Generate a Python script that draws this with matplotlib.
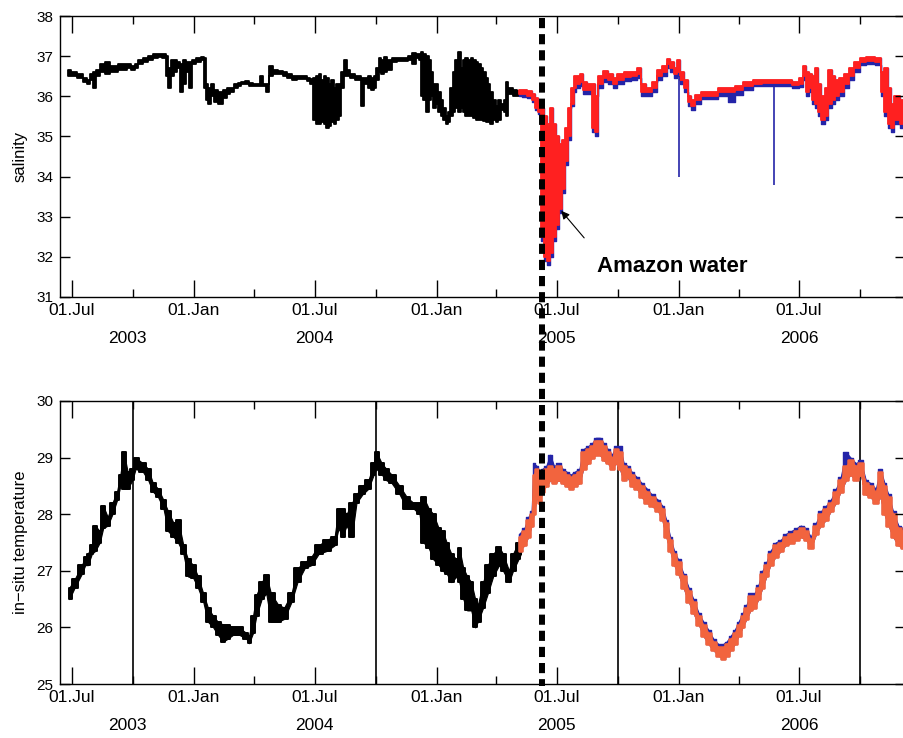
import numpy as np
import matplotlib
matplotlib.use('Agg')
import matplotlib.pyplot as plt
import matplotlib.dates as mdates
from matplotlib.lines import Line2D
from matplotlib.transforms import blended_transform_factory

plt.rcParams['font.family'] = ['Liberation Sans', 'DejaVu Sans']

# ---- salinity, first mooring (black), band low / high ----
sal_old_dates = ['2003-06-25', '2003-07-05', '2003-07-13', '2003-07-21', '2003-07-25', '2003-07-31',
                 '2003-08-05', '2003-08-09', '2003-08-17', '2003-08-24', '2003-08-30', '2003-09-04',
                 '2003-09-12', '2003-09-19', '2003-09-26', '2003-10-01', '2003-10-06', '2003-10-12',
                 '2003-10-20', '2003-10-27', '2003-11-04', '2003-11-11', '2003-11-18', '2003-11-21',
                 '2003-11-25', '2003-11-29', '2003-12-04', '2003-12-08', '2003-12-13', '2003-12-17',
                 '2003-12-23', '2003-12-27', '2004-01-01', '2004-01-08', '2004-01-14', '2004-01-17',
                 '2004-01-21', '2004-01-24', '2004-01-28', '2004-02-03', '2004-02-09', '2004-02-17',
                 '2004-02-22', '2004-02-27', '2004-03-04', '2004-03-10', '2004-03-15', '2004-03-21',
                 '2004-03-27', '2004-04-02', '2004-04-08', '2004-04-12', '2004-04-16', '2004-04-20',
                 '2004-04-25', '2004-05-02', '2004-05-10', '2004-05-17', '2004-05-24', '2004-06-01',
                 '2004-06-08', '2004-06-16', '2004-06-22', '2004-06-27', '2004-07-01', '2004-07-05',
                 '2004-07-09', '2004-07-13', '2004-07-16', '2004-07-20', '2004-07-24', '2004-07-28',
                 '2004-07-31', '2004-08-04', '2004-08-08', '2004-08-12', '2004-08-16', '2004-08-20',
                 '2004-08-27', '2004-09-03', '2004-09-07', '2004-09-12', '2004-09-16', '2004-09-22',
                 '2004-09-26', '2004-09-30', '2004-10-04', '2004-10-07', '2004-10-11', '2004-10-15',
                 '2004-10-22', '2004-10-30', '2004-11-06', '2004-11-14', '2004-11-22', '2004-11-26',
                 '2004-12-04', '2004-12-07', '2004-12-10', '2004-12-14', '2004-12-19', '2004-12-22',
                 '2004-12-25', '2004-12-29', '2005-01-01', '2005-01-05', '2005-01-09', '2005-01-12',
                 '2005-01-17', '2005-01-20', '2005-01-23', '2005-01-27', '2005-01-31', '2005-02-04',
                 '2005-02-08', '2005-02-11', '2005-02-15', '2005-02-19', '2005-02-23', '2005-02-27',
                 '2005-03-03', '2005-03-06', '2005-03-10', '2005-03-14', '2005-03-18', '2005-03-21',
                 '2005-03-25', '2005-03-29', '2005-04-02', '2005-04-05', '2005-04-10', '2005-04-14',
                 '2005-04-17', '2005-04-20', '2005-04-24', '2005-04-28', '2005-05-05']
sal_old_lo = [36.50, 36.50, 36.45, 36.35, 36.30, 36.40, 36.20, 36.50, 36.60, 36.55, 36.60, 36.60,
              36.65, 36.65, 36.70, 36.65, 36.70, 36.80, 36.85, 36.90, 36.95, 36.98, 36.95, 36.50,
              36.20, 36.50, 36.60, 36.70, 36.10, 36.30, 36.60, 36.20, 36.80, 36.85, 36.90, 36.20,
              35.90, 35.80, 36.00, 35.85, 35.80, 35.95, 36.05, 36.10, 36.20, 36.25, 36.30, 36.30,
              36.25, 36.25, 36.25, 36.25, 36.25, 36.10, 36.50, 36.55, 36.55, 36.50, 36.45, 36.40,
              36.42, 36.42, 36.38, 36.30, 35.40, 35.30, 35.30, 35.35, 35.30, 35.20, 35.25, 35.35,
              35.30, 35.40, 35.50, 36.20, 36.50, 36.50, 36.45, 36.40, 36.40, 35.75, 36.30, 36.20,
              36.15, 36.20, 36.40, 36.60, 36.55, 36.60, 36.65, 36.85, 36.88, 36.88, 36.90, 36.80,
              36.95, 36.90, 36.00, 35.90, 35.60, 35.90, 36.00, 35.70, 35.80, 35.60, 35.50, 35.40,
              35.30, 35.35, 35.50, 35.60, 35.70, 35.60, 35.70, 35.60, 35.50, 35.50, 35.50, 35.45,
              35.40, 35.40, 35.40, 35.38, 35.35, 35.35, 35.30, 35.40, 35.35, 35.40, 35.65, 35.60,
              35.50, 36.05, 36.05, 36.00, 36.00]
sal_old_hi = [36.65, 36.60, 36.55, 36.45, 36.40, 36.55, 36.60, 36.65, 36.80, 36.85, 36.75, 36.75,
              36.80, 36.80, 36.80, 36.75, 36.80, 36.90, 36.95, 37.00, 37.05, 37.05, 37.05, 37.00,
              36.70, 36.90, 36.90, 36.85, 36.80, 36.90, 36.85, 36.85, 36.90, 36.95, 36.97, 36.95,
              36.30, 36.20, 36.30, 36.15, 36.10, 36.15, 36.20, 36.20, 36.30, 36.32, 36.35, 36.38,
              36.32, 36.30, 36.30, 36.50, 36.30, 36.30, 36.75, 36.65, 36.62, 36.60, 36.55, 36.50,
              36.50, 36.50, 36.45, 36.42, 36.45, 36.50, 36.55, 36.40, 36.50, 36.45, 36.30, 36.40,
              36.20, 36.30, 36.30, 36.60, 36.90, 36.65, 36.55, 36.50, 36.50, 36.45, 36.45, 36.50,
              36.45, 36.50, 36.70, 36.95, 36.90, 36.98, 36.90, 36.95, 36.95, 36.95, 37.00, 37.08,
              37.05, 37.05, 37.10, 37.05, 37.00, 36.90, 36.60, 36.30, 36.30, 36.10, 35.90, 35.70,
              35.50, 35.60, 36.20, 36.60, 36.90, 37.10, 36.70, 36.90, 36.95, 36.90, 36.95, 36.90,
              36.85, 36.80, 36.70, 36.60, 36.45, 36.30, 36.10, 35.90, 35.75, 35.90, 35.80, 35.90,
              36.35, 36.20, 36.20, 36.15, 36.12]

# ---- salinity, second mooring (red sensor band, blue sensor below it) ----
sal_new_dates = ['2005-05-05', '2005-05-13', '2005-05-20', '2005-05-28', '2005-05-31', '2005-06-06',
                 '2005-06-09', '2005-06-14', '2005-06-18', '2005-06-23', '2005-06-27', '2005-07-03',
                 '2005-07-07', '2005-07-12', '2005-07-16', '2005-07-21', '2005-07-25', '2005-07-28',
                 '2005-08-02', '2005-08-08', '2005-08-12', '2005-08-20', '2005-08-26', '2005-08-29',
                 '2005-09-04', '2005-09-12', '2005-09-19', '2005-09-27', '2005-10-04', '2005-10-16',
                 '2005-10-27', '2005-11-03', '2005-11-08', '2005-11-18', '2005-11-26', '2005-12-03',
                 '2005-12-11', '2005-12-16', '2005-12-22', '2005-12-26', '2006-01-01', '2006-01-06',
                 '2006-01-12', '2006-01-18', '2006-01-22', '2006-01-30', '2006-02-09', '2006-02-21',
                 '2006-03-08', '2006-03-24', '2006-03-30', '2006-04-18', '2006-04-29', '2006-05-14',
                 '2006-05-29', '2006-06-13', '2006-06-28', '2006-07-05', '2006-07-10', '2006-07-14',
                 '2006-07-18', '2006-07-23', '2006-07-28', '2006-08-02', '2006-08-06', '2006-08-12',
                 '2006-08-17', '2006-08-22', '2006-08-27', '2006-09-04', '2006-09-11', '2006-09-19',
                 '2006-09-26', '2006-10-05', '2006-10-16', '2006-10-31', '2006-11-04', '2006-11-10',
                 '2006-11-15', '2006-11-19', '2006-11-25', '2006-12-05']
sal_red_lo = [36.05, 36.05, 36.00, 35.90, 35.70, 35.60, 32.50, 32.00, 31.90, 32.10, 32.50, 32.80,
              33.20, 33.70, 34.40, 35.00, 35.80, 36.20, 36.30, 36.35, 36.15, 36.15, 35.20, 35.10,
              36.30, 36.45, 36.40, 36.30, 36.40, 36.48, 36.50, 36.55, 36.10, 36.10, 36.20, 36.50,
              36.60, 36.80, 36.70, 36.55, 36.60, 36.40, 36.20, 35.85, 35.75, 35.90, 36.00, 36.00,
              36.10, 36.10, 36.15, 36.25, 36.30, 36.32, 36.32, 36.32, 36.28, 36.30, 36.50, 36.10,
              36.20, 35.90, 35.80, 35.60, 35.40, 35.50, 35.80, 35.90, 36.00, 36.10, 36.30, 36.50,
              36.70, 36.85, 36.88, 36.85, 36.10, 35.60, 35.30, 35.20, 35.40, 35.30]
sal_red_hi = [36.15, 36.15, 36.12, 36.05, 35.95, 35.80, 35.70, 35.50, 35.30, 35.70, 35.30, 35.00,
              34.80, 34.90, 35.20, 35.70, 36.20, 36.50, 36.50, 36.55, 36.35, 36.30, 36.30, 36.00,
              36.50, 36.62, 36.55, 36.45, 36.55, 36.60, 36.60, 36.70, 36.30, 36.20, 36.35, 36.65,
              36.75, 36.92, 36.85, 36.70, 36.90, 36.60, 36.40, 36.00, 35.90, 36.02, 36.10, 36.10,
              36.20, 36.20, 36.25, 36.35, 36.40, 36.40, 36.40, 36.40, 36.36, 36.45, 36.75, 36.60,
              36.55, 36.50, 36.70, 36.30, 36.00, 36.20, 36.65, 36.50, 36.40, 36.45, 36.55, 36.70,
              36.85, 36.95, 36.97, 36.95, 36.60, 36.70, 36.20, 35.80, 36.00, 35.90]
sal_blue = [36.00, 35.98, 35.95, 35.85, 35.65, 35.55, 32.40, 31.90, 31.80, 32.00, 32.40, 32.70,
            33.10, 33.60, 34.30, 34.90, 35.75, 36.10, 36.20, 36.25, 36.05, 36.05, 35.10, 35.00,
            36.20, 36.35, 36.30, 36.20, 36.30, 36.38, 36.40, 36.45, 36.00, 36.00, 36.10, 36.40,
            36.50, 36.70, 36.60, 36.45, 36.50, 36.30, 36.10, 35.75, 35.65, 35.80, 35.92, 35.92,
            36.00, 35.85, 36.02, 36.15, 36.25, 36.25, 36.25, 36.25, 36.20, 36.22, 36.40, 36.00,
            36.10, 35.80, 35.70, 35.50, 35.30, 35.40, 35.70, 35.80, 35.90, 36.00, 36.20, 36.40,
            36.60, 36.78, 36.80, 36.78, 36.00, 35.50, 35.20, 35.10, 35.30, 35.20]
sal_spike_dates = ['2006-01-01', '2006-05-24']
sal_spike_top = [36.50, 36.25]
sal_spike_bottom = [34.00, 33.80]

# ---- temperature, first mooring (black) ----
tmp_old_dates = ['2003-06-27', '2003-07-05', '2003-07-16', '2003-07-21', '2003-07-25', '2003-07-31',
                 '2003-08-05', '2003-08-12', '2003-08-17', '2003-08-24', '2003-08-31', '2003-09-07',
                 '2003-09-12', '2003-09-17', '2003-09-23', '2003-09-30', '2003-10-05', '2003-10-16',
                 '2003-10-24', '2003-10-31', '2003-11-08', '2003-11-16', '2003-11-23', '2003-12-01',
                 '2003-12-08', '2003-12-16', '2003-12-23', '2003-12-31', '2004-01-07', '2004-01-15',
                 '2004-01-22', '2004-01-30', '2004-02-06', '2004-02-14', '2004-02-21', '2004-02-29',
                 '2004-03-09', '2004-03-20', '2004-03-24', '2004-03-30', '2004-04-04', '2004-04-12',
                 '2004-04-19', '2004-04-26', '2004-05-07', '2004-05-16', '2004-05-27', '2004-06-05',
                 '2004-06-16', '2004-06-26', '2004-07-07', '2004-07-19', '2004-07-31', '2004-08-06',
                 '2004-08-12', '2004-08-18', '2004-08-26', '2004-09-02', '2004-09-11', '2004-09-20',
                 '2004-09-28', '2004-10-02', '2004-10-10', '2004-10-17', '2004-10-25', '2004-11-06',
                 '2004-11-17', '2004-11-27', '2004-12-06', '2004-12-12', '2004-12-20', '2004-12-27',
                 '2005-01-04', '2005-01-10', '2005-01-16', '2005-01-23', '2005-01-31', '2005-02-04',
                 '2005-02-10', '2005-02-16', '2005-02-22', '2005-02-28', '2005-03-04', '2005-03-12',
                 '2005-03-19', '2005-03-27', '2005-04-05', '2005-04-11', '2005-04-20', '2005-04-26',
                 '2005-05-04', '2005-05-08']
tmp_old_lo = [26.50, 26.70, 26.95, 27.10, 27.10, 27.30, 27.35, 27.50, 27.75, 27.80, 28.00, 28.25,
              28.50, 28.45, 28.45, 28.60, 28.80, 28.75, 28.60, 28.40, 28.30, 28.10, 27.70, 27.60,
              27.50, 27.30, 26.90, 26.87, 26.70, 26.45, 26.10, 26.00, 25.87, 25.75, 25.80, 25.87,
              25.87, 25.80, 25.72, 25.90, 26.20, 26.50, 26.60, 26.10, 26.10, 26.15, 26.45, 26.80,
              27.05, 27.10, 27.30, 27.35, 27.45, 27.75, 27.60, 27.80, 27.60, 28.20, 28.35, 28.45,
              28.70, 28.80, 28.70, 28.60, 28.55, 28.35, 28.10, 28.10, 28.00, 27.50, 27.40, 27.20,
              27.10, 27.00, 26.95, 26.80, 26.90, 26.80, 26.50, 26.30, 26.30, 26.00, 26.10, 26.35,
              26.60, 26.90, 27.10, 27.00, 26.80, 27.00, 27.20, 27.30]
tmp_old_hi = [26.70, 26.85, 27.10, 27.25, 27.30, 27.45, 27.80, 27.70, 28.15, 27.95, 28.20, 28.40,
              28.70, 29.10, 28.75, 28.80, 29.00, 28.90, 28.80, 28.55, 28.45, 28.25, 28.05, 27.85,
              27.90, 27.45, 27.20, 27.10, 26.90, 26.60, 26.35, 26.20, 26.10, 26.05, 26.05, 26.00,
              26.00, 25.90, 25.85, 26.20, 26.57, 26.80, 26.93, 26.60, 26.40, 26.35, 26.60, 27.05,
              27.15, 27.25, 27.45, 27.55, 27.60, 28.10, 28.10, 28.00, 28.20, 28.35, 28.50, 28.60,
              28.90, 29.10, 28.90, 28.80, 28.70, 28.50, 28.30, 28.20, 28.20, 28.30, 28.10, 28.00,
              27.75, 27.70, 27.50, 27.30, 27.20, 27.40, 27.05, 26.90, 26.80, 26.50, 26.40, 26.80,
              27.10, 27.30, 27.42, 27.30, 27.00, 27.30, 27.50, 27.60]

# ---- temperature, second mooring (orange band, blue just above it) ----
tmp_new_dates = ['2005-05-05', '2005-05-13', '2005-05-19', '2005-05-24', '2005-05-27', '2005-06-01',
                 '2005-06-05', '2005-06-09', '2005-06-15', '2005-06-21', '2005-06-27', '2005-07-04',
                 '2005-07-10', '2005-07-16', '2005-07-22', '2005-07-28', '2005-08-04', '2005-08-10',
                 '2005-08-17', '2005-08-23', '2005-08-29', '2005-09-04', '2005-09-10', '2005-09-16',
                 '2005-09-22', '2005-09-28', '2005-10-04', '2005-10-10', '2005-10-16', '2005-10-22',
                 '2005-10-30', '2005-11-06', '2005-11-14', '2005-11-21', '2005-12-01', '2005-12-07',
                 '2005-12-13', '2005-12-19', '2005-12-25', '2005-12-31', '2006-01-08', '2006-01-16',
                 '2006-01-23', '2006-01-31', '2006-02-07', '2006-02-15', '2006-02-22', '2006-03-02',
                 '2006-03-08', '2006-03-14', '2006-03-20', '2006-03-26', '2006-04-01', '2006-04-07',
                 '2006-04-13', '2006-04-19', '2006-04-25', '2006-05-01', '2006-05-07', '2006-05-13',
                 '2006-05-19', '2006-05-27', '2006-06-04', '2006-06-11', '2006-06-19', '2006-06-27',
                 '2006-07-04', '2006-07-12', '2006-07-19', '2006-07-27', '2006-08-03', '2006-08-11',
                 '2006-08-18', '2006-08-26', '2006-09-02', '2006-09-10', '2006-09-17', '2006-09-25',
                 '2006-10-02', '2006-10-10', '2006-10-17', '2006-10-25', '2006-11-01', '2006-11-07',
                 '2006-11-13', '2006-11-20', '2006-11-28', '2006-12-05']
tmp_red_lo = [27.35, 27.45, 27.60, 27.80, 28.00, 28.30, 28.20, 28.40, 28.50, 28.60, 28.55, 28.60,
              28.55, 28.50, 28.45, 28.50, 28.55, 28.80, 28.90, 29.00, 29.05, 29.05, 28.95, 28.90,
              28.80, 28.90, 28.80, 28.60, 28.65, 28.50, 28.45, 28.30, 28.20, 28.15, 28.05, 27.90,
              27.60, 27.35, 27.10, 26.95, 26.70, 26.45, 26.25, 26.05, 25.85, 25.70, 25.60, 25.50,
              25.45, 25.50, 25.60, 25.70, 25.85, 26.00, 26.15, 26.30, 26.35, 26.50, 26.70, 26.90,
              27.10, 27.25, 27.35, 27.45, 27.50, 27.55, 27.60, 27.55, 27.40, 27.65, 27.80, 27.90,
              28.05, 28.20, 28.40, 28.60, 28.70, 28.60, 28.70, 28.35, 28.30, 28.20, 28.30, 28.00,
              27.80, 27.60, 27.45, 27.40]
tmp_red_hi = [27.60, 27.70, 27.90, 28.00, 28.70, 28.80, 28.60, 28.75, 28.80, 28.85, 28.80, 28.85,
              28.75, 28.70, 28.65, 28.70, 28.75, 29.10, 29.15, 29.20, 29.30, 29.30, 29.20, 29.10,
              29.00, 29.15, 29.10, 28.85, 28.80, 28.70, 28.60, 28.50, 28.40, 28.30, 28.20, 28.10,
              27.85, 27.55, 27.30, 27.15, 26.90, 26.65, 26.45, 26.20, 26.05, 25.90, 25.75, 25.65,
              25.65, 25.70, 25.80, 25.90, 26.05, 26.20, 26.35, 26.55, 26.55, 26.70, 26.95, 27.10,
              27.30, 27.45, 27.50, 27.60, 27.65, 27.70, 27.75, 27.70, 27.55, 27.80, 28.00, 28.10,
              28.20, 28.40, 28.60, 28.85, 28.95, 28.85, 28.90, 28.55, 28.50, 28.40, 28.75, 28.50,
              28.30, 28.00, 27.75, 27.70]
tmp_blue = [27.65, 27.75, 27.95, 28.05, 28.90, 28.85, 28.65, 28.80, 28.85, 29.05, 28.85, 28.90,
            28.80, 28.75, 28.70, 28.75, 28.80, 29.15, 29.20, 29.25, 29.35, 29.35, 29.25, 29.15,
            29.05, 29.20, 29.20, 28.90, 28.85, 28.75, 28.65, 28.55, 28.45, 28.35, 28.25, 28.15,
            27.90, 27.60, 27.35, 27.20, 26.95, 26.70, 26.50, 26.25, 26.10, 25.95, 25.80, 25.70,
            25.70, 25.75, 25.85, 25.95, 26.10, 26.25, 26.40, 26.60, 26.60, 26.75, 27.00, 27.15,
            27.35, 27.50, 27.55, 27.65, 27.70, 27.75, 27.80, 27.75, 27.60, 27.85, 28.05, 28.15,
            28.25, 28.45, 28.65, 29.10, 29.00, 28.90, 28.95, 28.60, 28.55, 28.45, 28.80, 28.55,
            28.35, 28.05, 27.80, 27.75]

# ---- annotations ----
oct_lines = ['2003-10-01', '2004-10-01', '2005-10-01', '2006-10-01']
deploy_date = '2005-06-08'
year_labels = ['2003', '2004', '2005', '2006']
year_label_dates = ['2003-09-22', '2004-07-01', '2005-07-01', '2006-07-01']
arrow_head = ('2005-07-05', 33.2)
arrow_tail = ('2005-08-14', 32.42)
note_pos = ('2005-08-30', 31.75)


def d(lst):
    return np.array(lst, dtype='datetime64[D]')


def band(ax, dates, lo, hi, color, lw):
    # noisy record drawn as a filled band with ragged (stepped) edges
    x = d(dates)
    ax.fill_between(x, lo, hi, facecolor=color, edgecolor=color, lw=0.8)
    ax.fill_between(x, lo, hi, step='mid', facecolor=color, edgecolor=color, lw=lw)


fig = plt.figure(figsize=(9.04, 7.38), dpi=100)
ax1 = fig.add_axes([60 / 904, 1 - 297 / 738, 845 / 904, 281 / 738])
ax2 = fig.add_axes([60 / 904, 1 - 684 / 738, 845 / 904, 283 / 738])

RED = '#ff2020'
BLUE = '#2424a8'
ORANGE = '#f2643e'

# salinity
ax1.fill_between(d(sal_old_dates), sal_old_lo, sal_old_hi, step='mid', facecolor='k', edgecolor='k', lw=1.3)
ax1.fill_between(d(sal_new_dates), sal_blue, sal_red_hi, step='mid', facecolor=BLUE, edgecolor=BLUE, lw=1.0)
ax1.vlines(d(sal_spike_dates), sal_spike_bottom, sal_spike_top, color=BLUE, lw=1.2)
ax1.fill_between(d(sal_new_dates), sal_red_lo, sal_red_hi, step='mid', facecolor=RED, edgecolor=RED, lw=1.3)

# temperature
for t in oct_lines:
    ax2.axvline(np.datetime64(t), color='k', lw=1.2, zorder=1)
band(ax2, tmp_old_dates, tmp_old_lo, tmp_old_hi, 'k', 1.4)
band(ax2, tmp_new_dates, tmp_red_lo, tmp_blue, BLUE, 1.0)
band(ax2, tmp_new_dates, tmp_red_lo, tmp_red_hi, ORANGE, 1.8)

xmin, xmax = np.datetime64('2003-06-13'), np.datetime64('2006-12-08')
for ax, (y0, y1), lab in ((ax1, (31, 38), 'salinity'), (ax2, (25, 30), 'in\u2212situ temperature')):
    ax.set_xlim(xmin, xmax)
    ax.set_ylim(y0, y1)
    ax.set_yticks(range(y0, y1 + 1))
    ax.xaxis.set_major_locator(mdates.MonthLocator(bymonth=[1, 7]))
    ax.xaxis.set_minor_locator(mdates.MonthLocator(bymonth=[4, 10]))
    ax.xaxis.set_major_formatter(mdates.DateFormatter('%d.%b'))
    ax.tick_params(axis='x', which='major', direction='in', length=12, width=1.0,
                   top=True, labelsize=12.5, pad=4)
    ax.tick_params(axis='x', which='minor', direction='in', length=6, width=1.0, top=True)
    ax.tick_params(axis='y', direction='in', length=7, width=1.0, right=True, labelsize=11, pad=5)
    ax.set_ylabel(lab, fontsize=12, labelpad=6)
    for s in ax.spines.values():
        s.set_linewidth(1.0)
    for yl, yd in zip(year_labels, year_label_dates):
        ax.annotate(yl, xy=(np.datetime64(yd), 0), xycoords=('data', 'axes fraction'),
                    xytext=(0, -30), textcoords='offset points', ha='center', va='center',
                    fontsize=12.5)

ax1.annotate('', xy=(np.datetime64(arrow_head[0]), arrow_head[1]),
             xytext=(np.datetime64(arrow_tail[0]), arrow_tail[1]),
             arrowprops=dict(arrowstyle='-|>', color='k', lw=0.8, mutation_scale=12))
ax1.text(np.datetime64(note_pos[0]), note_pos[1], 'Amazon water', fontsize=16,
         fontweight='bold', ha='left', va='center')

# dashed deployment line through both panels
trans = blended_transform_factory(ax1.transData, fig.transFigure)
xd = mdates.date2num(np.datetime64(deploy_date))
fig.add_artist(Line2D([xd, xd], [1 - 18 / 738, 1 - 686 / 738], transform=trans, color='k',
                      lw=4.3, linestyle=(0, (1.7, 1.0)), zorder=10))

fig.savefig('out.png', dpi=100)
